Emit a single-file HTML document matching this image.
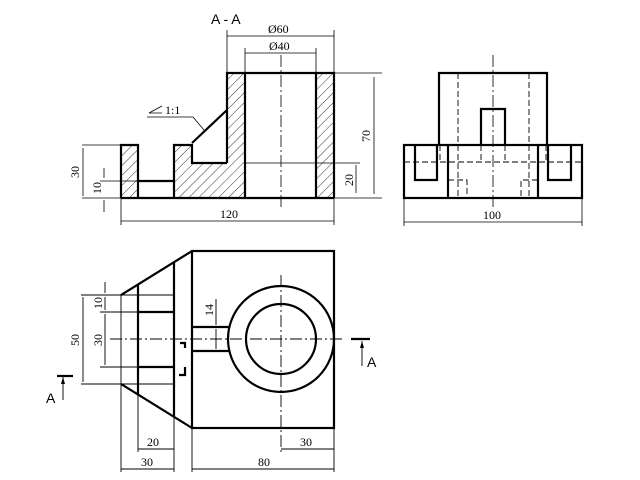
<!DOCTYPE html>
<html><head><style>body{margin:0;background:#fff}svg{display:block}text{font-family:"Liberation Serif",serif;font-size:12px;fill:#000;stroke:none}</style></head><body>
<svg width="640" height="480" viewBox="0 0 640 480" xmlns="http://www.w3.org/2000/svg">
<defs><pattern id="h" width="7" height="7" patternUnits="userSpaceOnUse" patternTransform="rotate(45)"><line x1="0" y1="0" x2="0" y2="7" stroke="#000" stroke-width="0.8"/></pattern></defs>
<g fill="none" stroke="#000">
<!-- FRONT SECTION -->
<g fill="url(#h)" stroke="none">
<rect x="121" y="145" width="17" height="53"/>
<polygon points="174,145 192,145 192,163 227,163 227,73 245,73 245,198 174,198"/>
<rect x="316" y="73" width="18" height="125"/>
</g>
<g stroke-width="2.2">
<polyline points="121,198 121,145 138,145 138,198"/>
<line x1="121" y1="198" x2="334" y2="198"/>
<polyline points="174,198 174,145 192,145 192,163 227,163"/>
<line x1="192" y1="143" x2="227" y2="110"/>
<polyline points="227,163 227,73 334,73 334,198"/>
<line x1="245" y1="73" x2="245" y2="198"/>
<line x1="316" y1="73" x2="316" y2="198"/>
<line x1="138" y1="181" x2="174" y2="181"/>
</g>
<g stroke-width="0.8">
<line x1="245" y1="163" x2="360" y2="163"/>
<line x1="281" y1="55" x2="281" y2="208" stroke-dasharray="12,3,2,3"/>
<line x1="227" y1="30" x2="227" y2="73"/><line x1="334" y1="30" x2="334" y2="73"/>
<line x1="227" y1="36" x2="334" y2="36"/>
<line x1="245" y1="48" x2="245" y2="73"/><line x1="316" y1="48" x2="316" y2="73"/>
<line x1="245" y1="53" x2="316" y2="53"/>
<line x1="334" y1="73" x2="382" y2="73"/><line x1="334" y1="198" x2="382" y2="198"/>
<line x1="374" y1="77" x2="374" y2="194"/>
<line x1="356" y1="165" x2="356" y2="193"/>
<line x1="121" y1="198" x2="121" y2="225"/><line x1="334" y1="198" x2="334" y2="225"/>
<line x1="121" y1="221" x2="334" y2="221"/>
<line x1="82" y1="145" x2="121" y2="145"/><line x1="100" y1="181" x2="138" y2="181"/><line x1="82" y1="198" x2="121" y2="198"/>
<line x1="83" y1="148" x2="83" y2="196"/>
<line x1="104" y1="168" x2="104" y2="178"/><line x1="104" y1="200" x2="104" y2="212"/>
<polyline points="147,117 193,117 204,130"/>
<polyline points="162,106 149,113 162,113"/>
</g>
<text x="211" y="24" style="font-family:'Liberation Sans',sans-serif;font-size:14px">A - A</text>
<text x="268" y="33">Ø60</text>
<text x="269" y="50">Ø40</text>
<text x="165" y="114" font-size="11">1:1</text>
<text x="220" y="218">120</text>
<text transform="translate(370,142) rotate(-90)">70</text>
<text transform="translate(353,186) rotate(-90)">20</text>
<text transform="translate(79,178) rotate(-90)">30</text>
<text transform="translate(101,194) rotate(-90)">10</text>

<!-- SIDE VIEW -->
<g stroke-width="2.2">
<rect x="404" y="145" width="178" height="53"/>
<polyline points="439,145 439,73 547,73 547,145"/>
<polyline points="481,145 481,109 505,109 505,145"/>
<line x1="448" y1="145" x2="448" y2="198"/><line x1="538" y1="145" x2="538" y2="198"/>
<polyline points="415,145 415,180 437,180 437,145"/>
<polyline points="548,145 548,180 571,180 571,145"/>
</g>
<g stroke-width="0.9" stroke-dasharray="6,3">
<line x1="404" y1="162" x2="582" y2="162"/>
<line x1="458" y1="73" x2="458" y2="198"/><line x1="529" y1="73" x2="529" y2="198"/>
<line x1="440" y1="145" x2="440" y2="162"/><line x1="546" y1="145" x2="546" y2="162"/>
<line x1="481" y1="145" x2="481" y2="162"/><line x1="505" y1="145" x2="505" y2="162"/>
<polyline points="448,180 467,180 467,198"/><polyline points="538,180 521,180 521,198"/>
</g>
<g stroke-width="0.8">
<line x1="493" y1="55" x2="493" y2="208" stroke-dasharray="12,3,2,3"/>
<line x1="404" y1="198" x2="404" y2="226"/><line x1="582" y1="198" x2="582" y2="226"/>
<line x1="404" y1="222" x2="582" y2="222"/>
</g>
<text x="483" y="219">100</text>

<!-- TOP VIEW -->
<g stroke-width="2.2">
<rect x="192" y="251" width="142" height="177"/>
<line x1="121" y1="295" x2="192" y2="251"/><line x1="121" y1="384" x2="192" y2="428"/>
<line x1="138" y1="284" x2="138" y2="395"/>
<line x1="174" y1="262" x2="174" y2="417"/>
<line x1="138" y1="312" x2="174" y2="312"/><line x1="138" y1="367" x2="174" y2="367"/>
<line x1="192" y1="327" x2="229" y2="327"/><line x1="192" y1="351" x2="229" y2="351"/>
<circle cx="281" cy="339" r="53"/><circle cx="281" cy="339" r="35"/>
<polyline points="180,343 185,343 185,348"/><polyline points="185,367 185,375 179,375"/>
<line x1="57" y1="376" x2="73" y2="376"/><line x1="351" y1="339" x2="370" y2="339"/>
</g>
<g stroke-width="0.9">
<line x1="121" y1="295" x2="121" y2="384"/>
<line x1="81" y1="295" x2="174" y2="295"/><line x1="81" y1="384" x2="174" y2="384"/>
<line x1="100" y1="312" x2="138" y2="312"/><line x1="100" y1="367" x2="138" y2="367"/>
<line x1="110" y1="339" x2="345" y2="339" stroke-dasharray="12,3,2,3"/>
<line x1="281" y1="275" x2="281" y2="452" stroke-dasharray="12,3,2,3"/>
<line x1="83" y1="297" x2="83" y2="382"/>
<line x1="105" y1="282" x2="105" y2="293"/><line x1="105" y1="297" x2="105" y2="310"/><line x1="105" y1="314" x2="105" y2="365"/>
<line x1="216" y1="299" x2="216" y2="325"/><line x1="216" y1="329" x2="216" y2="349"/>
<line x1="121" y1="384" x2="121" y2="472"/><line x1="138" y1="395" x2="138" y2="452"/>
<line x1="174" y1="417" x2="174" y2="472"/><line x1="192" y1="428" x2="192" y2="472"/><line x1="334" y1="428" x2="334" y2="472"/>
<line x1="138" y1="449" x2="174" y2="449"/><line x1="121" y1="469" x2="174" y2="469"/>
<line x1="192" y1="469" x2="334" y2="469"/><line x1="281" y1="449" x2="334" y2="449"/>
<line x1="63" y1="376" x2="63" y2="400"/><line x1="362" y1="341" x2="362" y2="366"/>
</g>
<polygon points="63,377 61,384 65,384" fill="#000" stroke="none"/>
<polygon points="362,341 360,348 364,348" fill="#000" stroke="none"/>
<text x="46" y="403" style="font-family:'Liberation Sans',sans-serif;font-size:14px">A</text>
<text x="367" y="367" style="font-family:'Liberation Sans',sans-serif;font-size:14px">A</text>
<text transform="translate(79,346) rotate(-90)">50</text>
<text transform="translate(102,309) rotate(-90)">10</text>
<text transform="translate(102,346) rotate(-90)">30</text>
<text transform="translate(213,316) rotate(-90)">14</text>
<text x="147" y="446">20</text>
<text x="141" y="466">30</text>
<text x="258" y="466">80</text>
<text x="300" y="446">30</text>
</g>
</svg>
</body></html>
